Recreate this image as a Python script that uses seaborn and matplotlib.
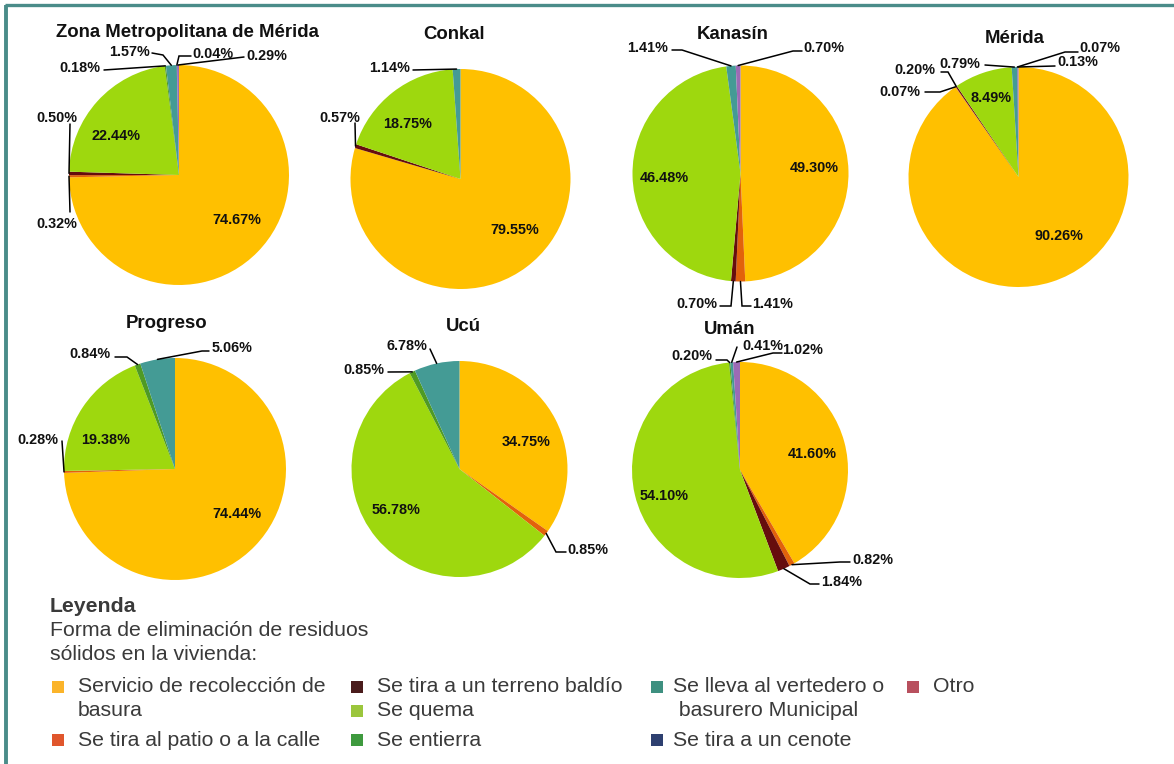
import numpy as np
import matplotlib
matplotlib.use("Agg")
import matplotlib.pyplot as plt
import seaborn as sns
from matplotlib.patches import Rectangle

W, H = 1174, 764

# formas de eliminacion (orden de las rebanadas, en sentido horario desde arriba)
categorias = [
    "Servicio de recolección de basura",
    "Se tira al patio o a la calle",
    "Se tira a un terreno baldío",
    "Se quema",
    "Se entierra",
    "Se lleva al vertedero o basurero Municipal",
    "Se tira a un cenote",
    "Otro",
]
etiquetas_leyenda = [
    "Servicio de recolección de\nbasura",
    "Se tira al patio o a la calle",
    "Se tira a un terreno baldío",
    "Se quema",
    "Se entierra",
    "Se lleva al vertedero o\n basurero Municipal",
    "Se tira a un cenote",
    "Otro",
]
colores_pie = ["#FFC000", "#E2620B", "#660D0D", "#9ED80E",
               "#4F9A24", "#449B95", "#374C80", "#9C6BB5"]
colores_leyenda = ["#FBB42A", "#E0562C", "#4A1C1C", "#9BC63C",
                   "#3E9A3E", "#3E9080", "#2E4070", "#B8505E"]

# porcentajes por municipio
zona = [74.67, 0.32, 0.50, 22.44, 0.18, 1.57, 0.04, 0.29]
conkal = [79.55, 0.00, 0.57, 18.75, 0.00, 1.14, 0.00, 0.00]
kanasin = [49.30, 1.41, 0.70, 46.48, 0.00, 1.41, 0.00, 0.70]
merida = [90.26, 0.07, 0.20, 8.49, 0.00, 0.79, 0.07, 0.13]
progreso = [74.44, 0.28, 0.00, 19.38, 0.84, 5.06, 0.00, 0.00]
ucu = [34.75, 0.85, 0.00, 56.78, 0.85, 6.78, 0.00, 0.00]
uman = [41.60, 0.82, 1.84, 54.10, 0.20, 0.41, 0.00, 1.02]

titulos = ["Zona Metropolitana de Mérida", "Conkal", "Kanasín", "Mérida",
           "Progreso", "Ucú", "Umán"]
series = [zona, conkal, kanasin, merida, progreso, ucu, uman]

# posiciones en pixeles (x, y hacia abajo)
centros = [(179, 175, 110), (460.5, 179, 110), (740.5, 173.5, 108), (1018.5, 177, 110),
           (175, 469, 111), (459.5, 469, 108), (740, 470, 108)]
pos_titulos = [(187, 37), (454.5, 39), (733, 39), (1015, 43),
               (167, 328), (463, 331), (730, 334)]
internas = [
    {0: (237, 219), 3: (116, 135)},
    {0: (515, 229), 3: (408, 123)},
    {0: (814, 166), 3: (664, 177)},
    {0: (1059, 235), 3: (991, 97)},
    {0: (237, 513), 3: (106, 438)},
    {0: (526, 441), 3: (396, 509)},
    {0: (812, 453), 3: (664, 494)},
]
externas = [
    {1: ((57, 223), [(70, 212)]),
     2: ((57, 116), [(70, 124)]),
     4: ((80, 67), [(104, 70)]),
     5: ((129, 50), [(163, 55), (152, 53)]),
     6: ((213, 52), [(179, 56), (191, 56)]),
     7: ((267, 55), [(244, 57)])},
    {2: ((340, 116), [(355, 123)]),
     5: ((390, 67), [(413, 70)])},
    {1: ((773, 303), [(742, 306), (751, 306)]),
     2: ((697, 303), [(731, 306), (720, 306)]),
     5: ((648, 47), [(682, 50), (672, 50)]),
     7: ((824, 47), [(793, 51), (802, 51)])},
    {1: ((900, 90), [(940, 92), (925, 92)]),
     2: ((915, 68), [(948, 72), (941, 72)]),
     5: ((960, 62), [(985, 65)]),
     6: ((1100, 47), [(1065, 52), (1078, 52)]),
     7: ((1078, 61), [(1055, 66)])},
    {1: ((38, 438), [(62, 441)]),
     4: ((90, 353), [(127, 357), (115, 357)]),
     5: ((232, 347), [(202, 351), (209, 351)])},
    {1: ((588, 548), [(556, 552), (566, 552)]),
     4: ((364, 368), [(388, 372)]),
     5: ((407, 345), [(430, 349)])},
    {1: ((873, 558), [(840, 562), (850, 562)]),
     2: ((842, 581), [(810, 584), (819, 584)]),
     4: ((692, 354), [(727, 360), (716, 360)]),
     5: ((763, 344), [(737, 347)]),
     7: ((803, 349), [(773, 353), (782, 353)])},
]

# leyenda: (x cuadro, x texto, y fila)
pos_leyenda = [(58, 78, 687), (58, 78, 740), (357, 377, 687), (357, 377, 711),
               (357, 377, 740), (657, 673, 687), (657, 673, 740), (913, 933, 687)]

sns.set_theme(style="white")
plt.rcParams['font.family'] = ['Liberation Sans', 'DejaVu Sans']

fig = plt.figure(figsize=(W / 100, H / 100), dpi=100)
ax = fig.add_axes([0, 0, 1, 1])


def yy(y):
    return H - y


for k, vals in enumerate(series):
    cx, cy, r = centros[k]
    nz = [i for i, v in enumerate(vals) if v > 0]
    ax.pie([vals[i] for i in nz], colors=[colores_pie[i] for i in nz],
           startangle=90, counterclock=False, center=(cx, yy(cy)), radius=r,
           frame=True, wedgeprops=dict(linewidth=0))
    tx, ty = pos_titulos[k]
    ax.text(tx, yy(ty), titulos[k], ha='center', va='baseline',
            fontsize=13.4, fontweight='bold', color='#111111')

    total = sum(vals)
    inicio = np.cumsum([0] + vals[:-1])
    for i, (lx, ly) in internas[k].items():
        ax.text(lx, yy(ly + 5.5), f"{vals[i]:.2f}%", ha='center', va='baseline',
                fontsize=10.4, fontweight='bold', color='#111111')
    for i, ((lx, ly), pts) in externas[k].items():
        th = np.radians((inicio[i] + vals[i] / 2) / total * 360)
        xs = [cx + r * np.sin(th)] + [p[0] for p in pts]
        ys = [cy - r * np.cos(th)] + [p[1] for p in pts]
        ax.plot(xs, [yy(v) for v in ys], color='black', lw=1.1,
                solid_joinstyle='miter')
        ax.text(lx, yy(ly + 5.5), f"{vals[i]:.2f}%", ha='center', va='baseline',
                fontsize=10.4, fontweight='bold', color='#111111')

# leyenda
txt = '#3a3a3a'
ax.text(50, yy(606), "Leyenda", ha='left', va='center', fontsize=15.3,
        fontweight='bold', color=txt)
ax.text(50, yy(631), "Forma de eliminación de residuos", ha='left', va='center',
        fontsize=15.3, color=txt)
ax.text(50, yy(655), "sólidos en la vivienda:", ha='left', va='center',
        fontsize=15.3, color=txt)
for i, etiqueta in enumerate(etiquetas_leyenda):
    sx, lx, ly = pos_leyenda[i]
    ax.add_patch(Rectangle((sx - 6, yy(ly) - 6), 12, 12,
                           facecolor=colores_leyenda[i], edgecolor='none'))
    for j, linea in enumerate(etiqueta.split("\n")):
        ax.text(lx, yy(ly + 24 * j), linea, ha='left', va='center',
                fontsize=15.3, color=txt)

# marco
borde = '#4A8C89'
ax.plot([5, W], [yy(5), yy(5)], color=borde, lw=2.4, solid_capstyle='butt')
ax.plot([6, 6], [yy(5), 0], color=borde, lw=2.8, solid_capstyle='butt')

ax.set_xlim(0, W)
ax.set_ylim(0, H)
ax.set_aspect('auto')
ax.axis('off')

fig.savefig("out.png", dpi=100, facecolor='white')
